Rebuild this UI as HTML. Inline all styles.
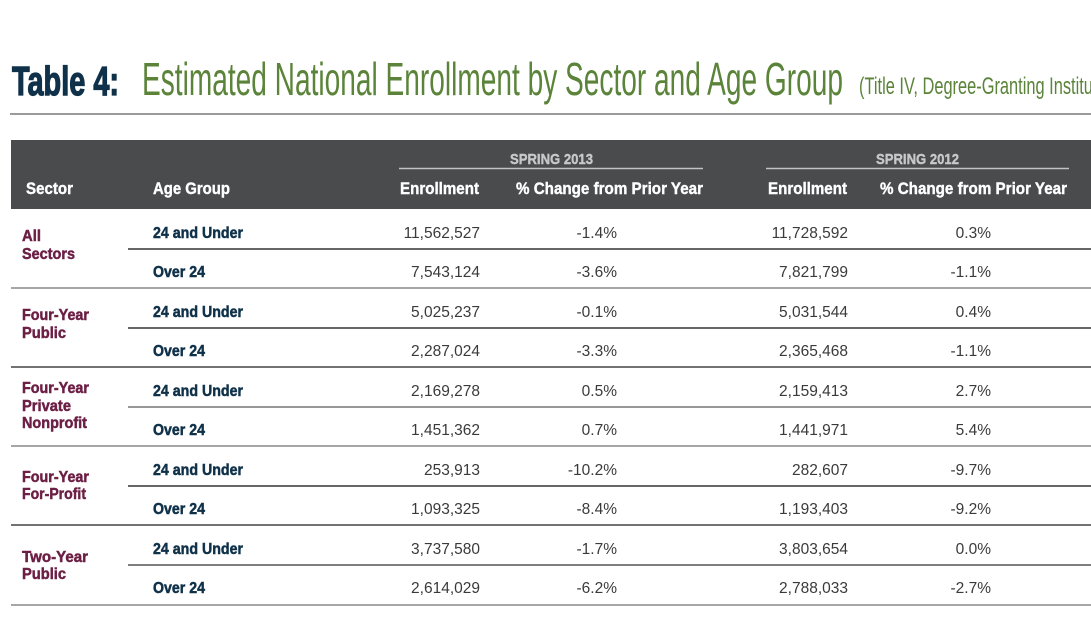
<!DOCTYPE html>
<html>
<head>
<meta charset="utf-8">
<style>
  html,body{margin:0;padding:0;background:#fff;}
  body{width:1091px;height:629px;overflow:hidden;}
  svg{display:block;}
  .b{font-family:"Liberation Sans",sans-serif;font-weight:bold;}
  .r{font-family:"Liberation Sans",sans-serif;font-weight:normal;}
</style>
</head>
<body>
<svg width="1091" height="629" viewBox="0 0 1091 629" xmlns="http://www.w3.org/2000/svg">
  <!-- Title -->
  <text class="b" x="12" y="95" font-size="41" fill="#0f3149" stroke="#0f3149" stroke-width="1.3" textLength="107" lengthAdjust="spacingAndGlyphs">Table 4:</text>
  <text class="r" x="142" y="95" font-size="46" fill="#5b843a" textLength="701" lengthAdjust="spacingAndGlyphs">Estimated National Enrollment by Sector and Age Group</text>
  <text class="r" x="859" y="94" font-size="24" fill="#5b843a" textLength="274" lengthAdjust="spacingAndGlyphs">(Title IV, Degree-Granting Institutions)</text>
  <line x1="10" y1="114" x2="1091" y2="114" stroke="#7a7a7a" stroke-width="1.6"/>

  <!-- Header -->
  <rect x="11" y="140" width="1080" height="69" fill="#4a4b4d"/>
  <g class="b" stroke-width="0.4">
    <text x="510" y="164" font-size="15" fill="#c6c8ca" stroke="#c6c8ca" textLength="83" lengthAdjust="spacingAndGlyphs">SPRING 2013</text>
    <text x="876" y="164" font-size="15" fill="#c6c8ca" stroke="#c6c8ca" textLength="83" lengthAdjust="spacingAndGlyphs">SPRING 2012</text>
  </g>
  <line x1="399" y1="168.5" x2="703" y2="168.5" stroke="#c0c2c4" stroke-width="1.5"/>
  <line x1="766" y1="168.5" x2="1069" y2="168.5" stroke="#c0c2c4" stroke-width="1.5"/>

  <g class="b" font-size="16.5" fill="#ffffff" stroke="#ffffff" stroke-width="0.4">
    <text x="26" y="194" textLength="47" lengthAdjust="spacingAndGlyphs">Sector</text>
    <text x="153" y="194" textLength="77" lengthAdjust="spacingAndGlyphs">Age Group</text>
    <text x="400" y="194" textLength="79" lengthAdjust="spacingAndGlyphs">Enrollment</text>
    <text x="516" y="194" textLength="187" lengthAdjust="spacingAndGlyphs">% Change from Prior Year</text>
    <text x="768" y="194" textLength="79" lengthAdjust="spacingAndGlyphs">Enrollment</text>
    <text x="880" y="194" textLength="187" lengthAdjust="spacingAndGlyphs">% Change from Prior Year</text>
  </g>

  <!-- Row lines -->
  <g stroke-width="1.6">
    <line x1="128" y1="249" x2="1091" y2="249" stroke="#333"/>
    <line x1="11" y1="288" x2="1091" y2="288" stroke="#888"/>
    <line x1="128" y1="328" x2="1091" y2="328" stroke="#333"/>
    <line x1="11" y1="367" x2="1091" y2="367" stroke="#444"/>
    <line x1="128" y1="407" x2="1091" y2="407" stroke="#777"/>
    <line x1="11" y1="446" x2="1091" y2="446" stroke="#888"/>
    <line x1="128" y1="486" x2="1091" y2="486" stroke="#333"/>
    <line x1="11" y1="525" x2="1091" y2="525" stroke="#444"/>
    <line x1="128" y1="565" x2="1091" y2="565" stroke="#555"/>
    <line x1="11" y1="605" x2="1091" y2="605" stroke="#888"/>
  </g>

  <!-- Sector labels -->
  <g class="b" font-size="16" fill="#6c1f45" stroke="#6c1f45" stroke-width="0.5">
    <text x="22" y="241" textLength="19" lengthAdjust="spacingAndGlyphs">All</text>
    <text x="22" y="259" textLength="53" lengthAdjust="spacingAndGlyphs">Sectors</text>
    <text x="22" y="320" textLength="67" lengthAdjust="spacingAndGlyphs">Four-Year</text>
    <text x="22" y="338" textLength="44" lengthAdjust="spacingAndGlyphs">Public</text>
    <text x="22" y="393" textLength="67" lengthAdjust="spacingAndGlyphs">Four-Year</text>
    <text x="22" y="411" textLength="49" lengthAdjust="spacingAndGlyphs">Private</text>
    <text x="22" y="428" textLength="65" lengthAdjust="spacingAndGlyphs">Nonprofit</text>
    <text x="22" y="482" textLength="67" lengthAdjust="spacingAndGlyphs">Four-Year</text>
    <text x="22" y="499" textLength="64" lengthAdjust="spacingAndGlyphs">For-Profit</text>
    <text x="22" y="562" textLength="66" lengthAdjust="spacingAndGlyphs">Two-Year</text>
    <text x="22" y="579" textLength="44" lengthAdjust="spacingAndGlyphs">Public</text>
  </g>

  <!-- Age groups -->
  <g class="b" font-size="16" fill="#0f3149" stroke="#0f3149" stroke-width="0.5">
    <text x="153" y="238" textLength="90" lengthAdjust="spacingAndGlyphs">24 and Under</text>
    <text x="153" y="277" textLength="52" lengthAdjust="spacingAndGlyphs">Over 24</text>
    <text x="153" y="317" textLength="90" lengthAdjust="spacingAndGlyphs">24 and Under</text>
    <text x="153" y="356" textLength="52" lengthAdjust="spacingAndGlyphs">Over 24</text>
    <text x="153" y="396" textLength="90" lengthAdjust="spacingAndGlyphs">24 and Under</text>
    <text x="153" y="435" textLength="52" lengthAdjust="spacingAndGlyphs">Over 24</text>
    <text x="153" y="475" textLength="90" lengthAdjust="spacingAndGlyphs">24 and Under</text>
    <text x="153" y="514" textLength="52" lengthAdjust="spacingAndGlyphs">Over 24</text>
    <text x="153" y="554" textLength="90" lengthAdjust="spacingAndGlyphs">24 and Under</text>
    <text x="153" y="593" textLength="52" lengthAdjust="spacingAndGlyphs">Over 24</text>
  </g>

  <!-- Numbers -->
  <g class="r" font-size="15.5" fill="#3a3a3a" text-anchor="end">
    <text x="480" y="238">11,562,527</text><text x="617" y="238">-1.4%</text><text x="848" y="238">11,728,592</text><text x="991" y="238">0.3%</text>
    <text x="480" y="277">7,543,124</text><text x="617" y="277">-3.6%</text><text x="848" y="277">7,821,799</text><text x="991" y="277">-1.1%</text>
    <text x="480" y="317">5,025,237</text><text x="617" y="317">-0.1%</text><text x="848" y="317">5,031,544</text><text x="991" y="317">0.4%</text>
    <text x="480" y="356">2,287,024</text><text x="617" y="356">-3.3%</text><text x="848" y="356">2,365,468</text><text x="991" y="356">-1.1%</text>
    <text x="480" y="396">2,169,278</text><text x="617" y="396">0.5%</text><text x="848" y="396">2,159,413</text><text x="991" y="396">2.7%</text>
    <text x="480" y="435">1,451,362</text><text x="617" y="435">0.7%</text><text x="848" y="435">1,441,971</text><text x="991" y="435">5.4%</text>
    <text x="480" y="475">253,913</text><text x="617" y="475">-10.2%</text><text x="848" y="475">282,607</text><text x="991" y="475">-9.7%</text>
    <text x="480" y="514">1,093,325</text><text x="617" y="514">-8.4%</text><text x="848" y="514">1,193,403</text><text x="991" y="514">-9.2%</text>
    <text x="480" y="554">3,737,580</text><text x="617" y="554">-1.7%</text><text x="848" y="554">3,803,654</text><text x="991" y="554">0.0%</text>
    <text x="480" y="593">2,614,029</text><text x="617" y="593">-6.2%</text><text x="848" y="593">2,788,033</text><text x="991" y="593">-2.7%</text>
  </g>
</svg>
</body>
</html>
